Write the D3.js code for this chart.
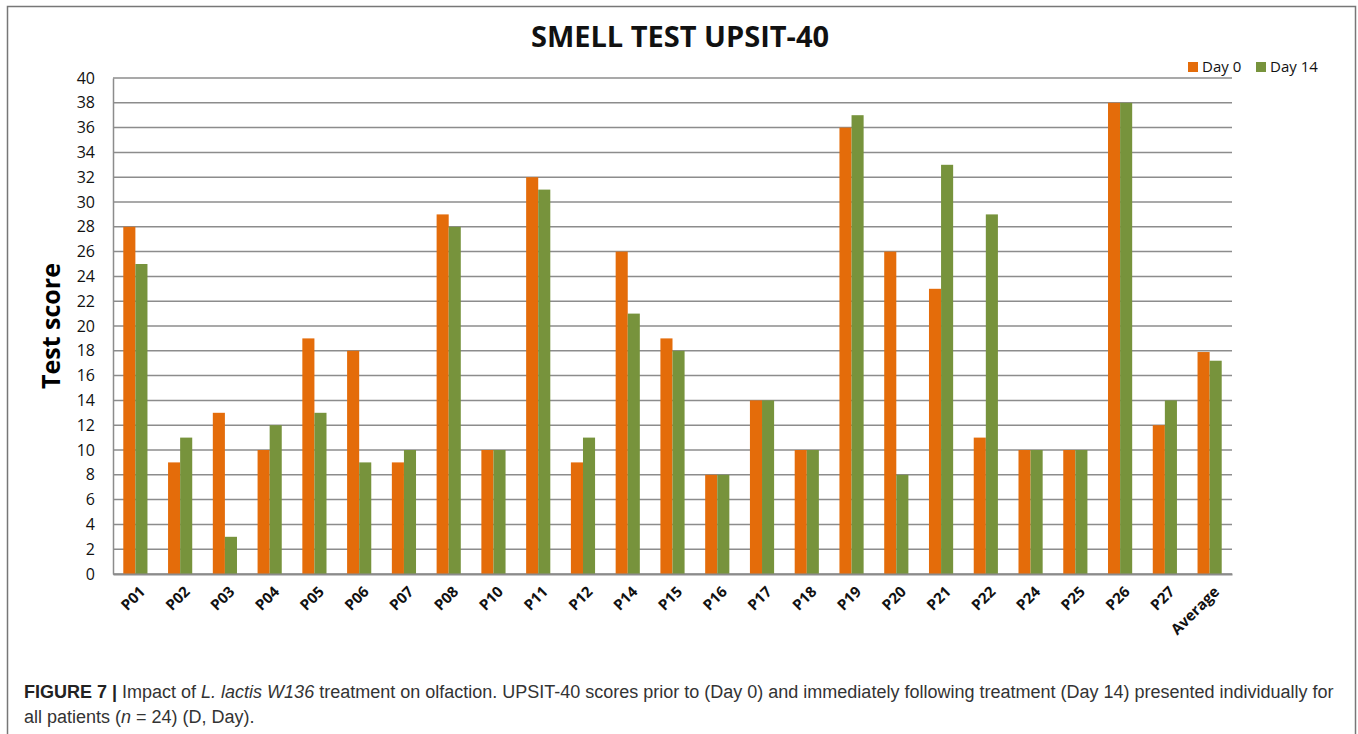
<!DOCTYPE html>
<html>
<head>
<meta charset="utf-8">
<script src="https://cdn.jsdelivr.net/npm/d3@7"></script>
<style>
	body { margin: 0; background: #fff; }
	svg { display: block; }
	.tick text { font-family: "Open Sans", Lato, sans-serif; }
</style>
</head>
<body>
<script>
// Data
const patients = ['P01', 'P02', 'P03', 'P04', 'P05', 'P06', 'P07', 'P08', 'P10', 'P11', 'P12', 'P14',
	'P15', 'P16', 'P17', 'P18', 'P19', 'P20', 'P21', 'P22', 'P24', 'P25', 'P26', 'P27', 'Average'];
const day0 = [28, 9, 13, 10, 19, 18, 9, 29, 10, 32, 9, 26, 19, 8, 14, 10, 36, 26, 23, 11, 10, 10, 38, 12, 17.9];
const day14 = [25, 11, 3, 12, 13, 9, 10, 28, 10, 31, 11, 21, 18, 8, 14, 10, 37, 8, 33, 29, 10, 10, 38, 14, 17.2];
const seriesNames = ['Day 0', 'Day 14'];
const seriesColors = ['#E46C0A', '#77933C'];
const yTicks = d3.range(0, 41, 2);

const W = 1358, H = 734;
const margin = { top: 78, right: 126, bottom: 160, left: 113 };
const width = W - margin.left - margin.right;
const height = H - margin.top - margin.bottom;

const svg = d3.select('body').append('svg')
	.attr('width', W)
	.attr('height', H);

// Figure frame
svg.append('rect')
	.attr('x', 7.5).attr('y', 6.5)
	.attr('width', 1348).attr('height', 740)
	.attr('fill', 'none')
	.attr('stroke', '#777')
	.attr('stroke-width', 1.5);

const g = svg.append('g')
	.attr('transform', `translate(${margin.left}, ${margin.top})`);

// Scales
const x0 = d3.scaleBand()
	.domain(patients)
	.range([0, width])
	.paddingInner(0.46)
	.paddingOuter(0.23);

const x1 = d3.scaleBand()
	.domain(seriesNames)
	.range([0, x0.bandwidth()]);

const y = d3.scaleLinear()
	.domain([0, 40])
	.range([height, 0]);

const color = d3.scaleOrdinal().domain(seriesNames).range(seriesColors);

// Gridlines
g.append('g')
	.selectAll('line')
	.data(yTicks)
	.join('line')
	.attr('x1', 0)
	.attr('x2', width)
	.attr('y1', d => y(d))
	.attr('y2', d => y(d))
	.attr('stroke', '#8c8c8c')
	.attr('stroke-width', 1.5);

// Y axis
const yAxis = g.append('g')
	.call(d3.axisLeft(y).tickValues(yTicks).tickSize(0).tickPadding(18));
yAxis.select('.domain').attr('stroke', '#8c8c8c').attr('stroke-width', 1.5);
yAxis.selectAll('text')
	.attr('font-size', 16)
	.attr('fill', '#111');

// Bars
const rows = patients.map((p, i) => ({ patient: p, values: [day0[i], day14[i]] }));

const groups = g.append('g')
	.selectAll('g')
	.data(rows)
	.join('g')
	.attr('transform', d => `translate(${x0(d.patient)}, 0)`);

groups.selectAll('rect')
	.data(d => d.values.map((v, k) => ({ key: seriesNames[k], value: v })))
	.join('rect')
	.attr('x', d => x1(d.key))
	.attr('y', d => y(d.value))
	.attr('width', x1.bandwidth())
	.attr('height', d => y(0) - y(d.value))
	.attr('fill', d => color(d.key));

// X axis
const xAxis = g.append('g')
	.attr('transform', `translate(0, ${height})`)
	.call(d3.axisBottom(x0).tickSize(0).tickPadding(0));
xAxis.select('.domain').attr('stroke', '#8c8c8c').attr('stroke-width', 2);
xAxis.selectAll('text')
	.attr('font-size', 15)
	.attr('font-weight', 'bold')
	.attr('fill', '#111')
	.attr('text-anchor', 'end')
	.attr('dy', '0.35em')
	.attr('transform', 'translate(7, 15) rotate(-45)');

// Y axis title
svg.append('text')
	.attr('transform', 'translate(60, 326) rotate(-90)')
	.attr('text-anchor', 'middle')
	.attr('font-family', '"Open Sans", Lato, sans-serif')
	.attr('font-size', 25)
	.attr('font-weight', 'bold')
	.attr('fill', '#000')
	.text('Test score');

// Title
svg.append('text')
	.attr('x', 680)
	.attr('y', 47)
	.attr('text-anchor', 'middle')
	.attr('font-family', '"Open Sans", Lato, sans-serif')
	.attr('font-size', 29)
	.attr('font-weight', 'bold')
	.attr('fill', '#111')
	.text('SMELL TEST UPSIT-40');

// Legend
const legend = svg.append('g')
	.attr('transform', 'translate(1188, 61)');
const legendItems = legend.selectAll('g')
	.data(seriesNames)
	.join('g')
	.attr('transform', (d, i) => `translate(${i * 68}, 0)`);
legendItems.append('rect')
	.attr('width', 10)
	.attr('height', 10)
	.attr('y', 1)
	.attr('fill', d => color(d));
legendItems.append('text')
	.attr('x', 14)
	.attr('y', 6)
	.attr('dy', '0.35em')
	.attr('font-family', '"Open Sans", Lato, sans-serif')
	.attr('font-size', 15)
	.attr('fill', '#111')
	.text(d => d);

// Caption
const caption = svg.append('g')
	.attr('font-family', '"Liberation Sans", Arial, sans-serif')
	.attr('font-size', 18)
	.attr('fill', '#333');

const line1 = caption.append('text').attr('x', 24).attr('y', 698);
line1.append('tspan').attr('font-weight', 'bold').attr('fill', '#222').text('FIGURE 7 | ');
line1.append('tspan').text('Impact of ');
line1.append('tspan').attr('font-style', 'italic').text('L. lactis W136');
line1.append('tspan').text(' treatment on olfaction. UPSIT-40 scores prior to (Day 0) and immediately following treatment (Day 14) presented individually for');

const line2 = caption.append('text').attr('x', 24).attr('y', 723);
line2.append('tspan').text('all patients (');
line2.append('tspan').attr('font-style', 'italic').text('n');
line2.append('tspan').text(' = 24) (D, Day).');
</script>
</body>
</html>
